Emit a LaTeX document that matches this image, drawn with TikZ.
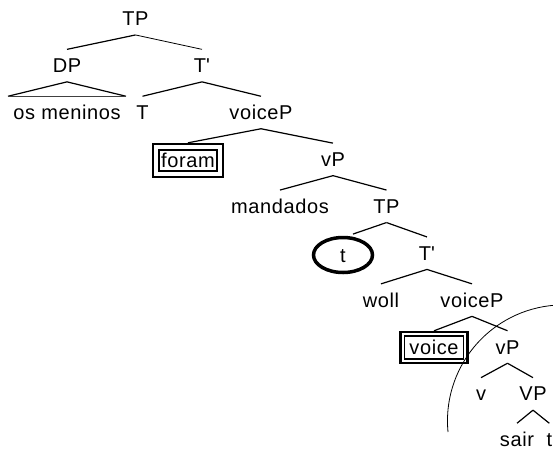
\documentclass[tikz,border=0pt]{standalone}
\usepackage{fontspec}
\setmainfont{Liberation Sans}[LetterSpace=3]
\usetikzlibrary{calc,fit,shapes.geometric}
\begin{document}
\begin{tikzpicture}[x=1pt,y=-1pt,
  lbl/.style={font=\fontsize{20}{24}\selectfont, text height=14pt, text depth=0pt,
              inner xsep=2pt, inner ysep=9.25pt, outer sep=0pt},
  br/.style={line width=1.2pt},
  brthin/.style={line width=0.8pt},
  boxin/.style={lbl, draw, line width=1.4pt, inner sep=0pt, minimum width=#1, minimum height=21pt},
  boxout/.style={draw, line width=2.4pt, inner sep=#1},
  ring/.style={lbl, ellipse, draw, line width=3.5pt, inner sep=0pt, minimum width=59pt, minimum height=35pt},
  ]
\useasboundingbox (0,0) rectangle (553,450);
% row 0
\node[lbl] (TP0) at (135.5,18.7) {TP};
% row 1
\node[lbl] (DP) at (67,65.6) {DP};
\node[lbl] (Tb1) at (202,65.6) {T\textquotesingle};
% row 2
\node[lbl, minimum width=118pt, inner xsep=0pt] (osm) at (67,112.5) {os meninos};
\node[lbl] (T) at (142.5,112.5) {T};
\node[lbl] (voiceP1) at (261,112.5) {voiceP};
% row 3
\node[boxin=58pt] (foram) at (188,160.5) {foram};
\node[boxout=6pt, fit=(foram)] (foramO) {};
\node[lbl] (vP1) at (333,159.4) {vP};
% row 4
\node[lbl] (mandados) at (280,206.3) {mandados};
\node[lbl] (TP2) at (386.5,206.3) {TP};
% row 5
\node[ring] (t1) at (343,255) {t};
\node[lbl] (Tb2) at (427,253.2) {T\textquotesingle};
% row 6
\node[lbl] (woll) at (381,300.1) {woll};
\node[lbl] (voiceP2) at (472,300.1) {voiceP};
% row 7
\node[boxin=59pt, minimum height=23pt] (voice) at (434,347.5) {voice};
\node[boxout=4pt, fit=(voice)] (voiceO) {};
\node[lbl] (vP2) at (507.5,347) {vP};
% row 8
\node[lbl] (v) at (481,393.9) {v};
\node[lbl] (VP) at (533,393.9) {VP};
% row 9
\node[lbl] (sair) at (517,439.5) {sair};
\node[lbl] (t2) at (549.3,439.5) {t};

% branches
\draw[br] (TP0.south) -- (DP.north);
\draw[brthin] (TP0.south) -- (Tb1.north);
\draw[br] (osm.north west) -- (DP.south) -- (osm.north east);
\draw[line width=0.8pt, black!75] (osm.north west) -- (osm.north east);
\draw[br] (Tb1.south) -- (T.north);
\draw[br] (Tb1.south) -- (voiceP1.north);
\draw[br] (voiceP1.south) -- (foramO.north);
\draw[br] (voiceP1.south) -- (vP1.north);
\draw[br] (vP1.south) -- (mandados.north);
\draw[br] (vP1.south) -- (TP2.north);
\draw[br] (TP2.south) -- ($(TP2.south)!0.77!(t1.north)$);
\draw[br] (TP2.south) -- (Tb2.north);
\draw[br] (Tb2.south) -- (woll.north);
\draw[br] (Tb2.south) -- (voiceP2.north);
\draw[br] (voiceP2.south) -- (voiceO.north);
\draw[br] (voiceP2.south) -- (vP2.north);
\draw[br] (vP2.south) -- (v.north);
\draw[br] (vP2.south) -- (VP.north);
\draw[br] (VP.south) -- (sair.north);
\draw[br] (VP.south) -- (t2.north);

% large circle arc
\coordinate (arcstart) at (448,432);
\draw[line width=0.8pt] (arcstart) arc[start angle=185.5, end angle=80, radius=116pt];
\end{tikzpicture}
\end{document}
